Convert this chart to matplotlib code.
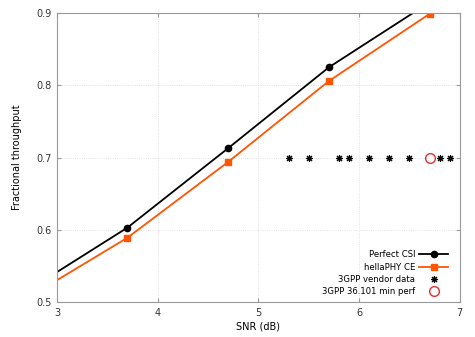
import matplotlib
matplotlib.use('Agg')
import matplotlib.pyplot as plt

plt.rcParams['font.family'] = 'DejaVu Sans'
plt.rcParams['font.size'] = 7

# SNR points (first point lies left of the plotted range and is clipped)
snr = [2.7, 3.7, 4.7, 5.7, 6.7]
perfect_csi = [0.515, 0.603, 0.713, 0.825, 0.915]
hellaphy_ce = [0.505, 0.589, 0.694, 0.806, 0.899]

vendor_snr = [5.3, 5.5, 5.8, 5.9, 6.1, 6.3, 6.5, 6.8, 6.9]
vendor_tp = [0.7] * len(vendor_snr)

minperf_snr = [6.7]
minperf_tp = [0.7]

fig = plt.figure(figsize=(4.75, 3.37), dpi=100)
ax = fig.add_axes([0.12, 0.104, 0.848, 0.857])

ax.plot(snr, perfect_csi, color='black', lw=1.3, marker='o', ms=4.5,
        label='Perfect CSI')
ax.plot(snr, hellaphy_ce, color='#ff5500', lw=1.3, marker='s', ms=5,
        label='hellaPHY CE')
ax.plot(vendor_snr, vendor_tp, ls='none', marker=(8, 2, 0), ms=5,
        mew=0.8, color='black', label='3GPP vendor data')
ax.plot(minperf_snr, minperf_tp, ls='none', marker='o', ms=7, mfc='none',
        mec='#e03030', mew=1.0, label='3GPP 36.101 min perf')

ax.set_xlim(3, 7)
ax.set_ylim(0.5, 0.9)
ax.set_xticks([3, 4, 5, 6, 7])
ax.set_yticks([0.5, 0.6, 0.7, 0.8, 0.9])
ax.set_xlabel('SNR (dB)', labelpad=3)
ax.set_ylabel('Fractional throughput', labelpad=10)

ax.grid(True, color='#d8d8d8', ls=':', lw=0.6)
ax.tick_params(direction='in', length=3, color='#999999', top=True, right=True,
               labelsize=7, colors='#333333', pad=4)
for s in ax.spines.values():
    s.set_color('#999999')
    s.set_linewidth(0.8)

# markerfirst=False puts the key text on the left, right aligned
ax.legend(loc='lower right', bbox_to_anchor=(0.985, 0.0), markerfirst=False,
          frameon=False, fontsize=6.1, handlelength=3.4, labelspacing=0.4,
          borderaxespad=0.25, handletextpad=0.5)

fig.savefig('out.png', dpi=100)
